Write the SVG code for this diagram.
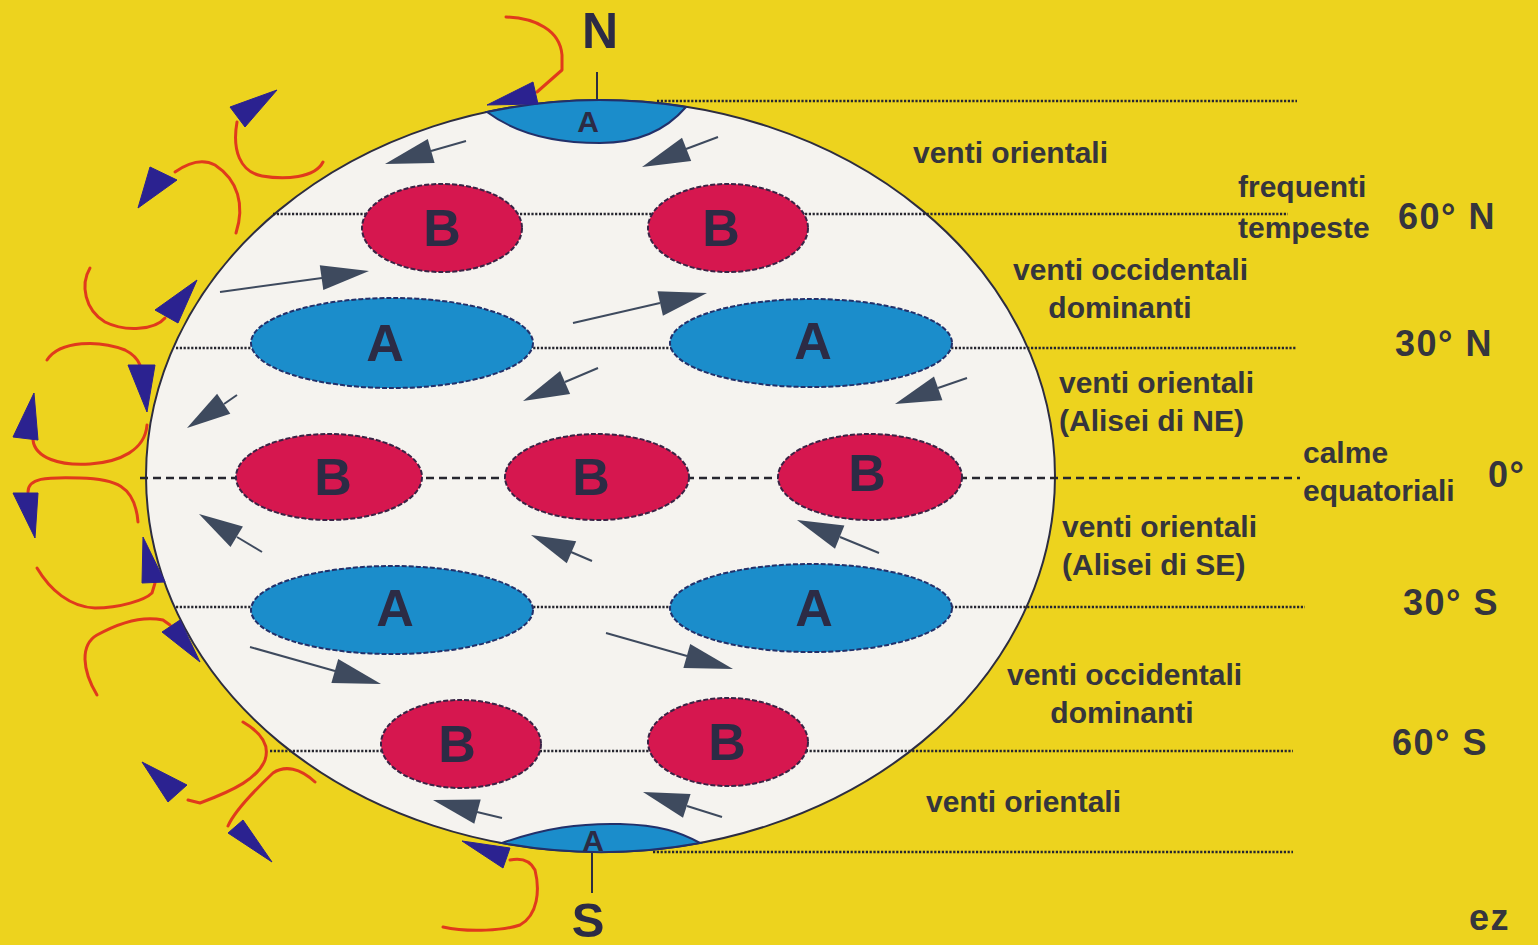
<svg xmlns="http://www.w3.org/2000/svg" width="1538" height="945" viewBox="0 0 1538 945">
  <style>
    .lat { fill: none; stroke: #26262f; stroke-width: 2.6; stroke-dasharray: 2.2 1.6; }
    .eq { fill: none; stroke: #26262f; stroke-width: 2.4; stroke-dasharray: 8 5; }
    .high { fill: #1b8dcb; stroke: #22306a; stroke-width: 2; stroke-dasharray: 5 2; }
    .low { fill: #d6174f; stroke: #3a2345; stroke-width: 2; stroke-dasharray: 5 2; }
    .cap { fill: #1b8dcb; stroke: #22306a; stroke-width: 2; }
    .ctr { font-family: "Liberation Sans", Arial, sans-serif; font-weight: bold; fill: #2c2b45; text-anchor: middle; }
    .lbl { font-family: "Liberation Sans", Arial, sans-serif; font-weight: bold; font-size: 30px; fill: #35353d; }
    .deg { font-family: "Liberation Sans", Arial, sans-serif; font-weight: bold; font-size: 36px; fill: #35353d; letter-spacing: 1.5px; }
    .wind line { stroke: #3e4a5e; stroke-width: 2; }
    .wind polygon { fill: #3e4a5e; }
    .cell path { fill: none; stroke: #e03a1c; stroke-width: 3; stroke-linecap: round; stroke-linejoin: round; }
    .cell polygon { fill: #2b2290; stroke: #2b2290; stroke-width: 1; stroke-linejoin: round; }
  </style>

  <!-- background -->
  <rect width="1538" height="945" fill="#edd31e"/>

  <!-- globe -->
  <g id="globe">
    <ellipse cx="600.5" cy="476" rx="454.5" ry="376" fill="#f5f3ef" stroke="#2d2d40" stroke-width="2"/>
  </g>

  <!-- latitude lines -->
  <g id="latitudes">
    <line class="lat" x1="657" y1="101" x2="1297" y2="101"/>
    <line class="lat" x1="273" y1="214" x2="1288" y2="214"/>
    <line class="lat" x1="176" y1="348" x2="1297" y2="348"/>
    <line class="eq" x1="140" y1="478" x2="1300" y2="478"/>
    <line class="lat" x1="176" y1="607" x2="1305" y2="607"/>
    <line class="lat" x1="270" y1="751" x2="1293" y2="751"/>
    <line class="lat" x1="653" y1="852" x2="1293" y2="852"/>
  </g>

  <!-- polar axis -->
  <g id="axis">
    <line x1="597" y1="72" x2="597" y2="101" stroke="#2d2d40" stroke-width="2"/>
    <line x1="592" y1="843" x2="592" y2="893" stroke="#2d2d40" stroke-width="2"/>
    <text class="ctr" x="600" y="48" font-size="50" fill="#3a3a48">N</text>
    <text class="ctr" x="588" y="937" font-size="49" fill="#3a3a48">S</text>
  </g>

  <!-- polar highs -->
  <g id="cap-north">
    <path class="cap" d="M487,112 A454.5,376 0 0 1 686,107 C668,128 640,143 600,143 C555,143 515,133 487,112 Z"/>
    <text class="ctr" x="588" y="132" font-size="30">A</text>
  </g>
  <g id="cap-south">
    <path class="cap" d="M502,843 A454.5,376 0 0 0 700,843 C680,832 660,825 620,824 C580,823 545,828 502,843 Z"/>
    <text class="ctr" x="593" y="851" font-size="30">A</text>
  </g>

  <!-- pressure cells -->
  <g id="low-60n-w"><ellipse class="low" cx="442" cy="228" rx="80" ry="44"/><text class="ctr" x="442" y="246" font-size="52">B</text></g>
  <g id="low-60n-e"><ellipse class="low" cx="728" cy="228" rx="80" ry="44"/><text class="ctr" x="721" y="246" font-size="52">B</text></g>
  <g id="high-30n-w"><ellipse class="high" cx="392" cy="343" rx="141" ry="45"/><text class="ctr" x="385" y="361" font-size="52">A</text></g>
  <g id="high-30n-e"><ellipse class="high" cx="811" cy="343" rx="141" ry="44"/><text class="ctr" x="813" y="359" font-size="52">A</text></g>
  <g id="low-eq-w"><ellipse class="low" cx="329" cy="477" rx="93" ry="43"/><text class="ctr" x="333" y="495" font-size="52">B</text></g>
  <g id="low-eq-c"><ellipse class="low" cx="597" cy="477" rx="92" ry="43"/><text class="ctr" x="591" y="495" font-size="52">B</text></g>
  <g id="low-eq-e"><ellipse class="low" cx="870" cy="477" rx="92" ry="43"/><text class="ctr" x="867" y="491" font-size="52">B</text></g>
  <g id="high-30s-w"><ellipse class="high" cx="392" cy="610" rx="141" ry="44"/><text class="ctr" x="395" y="626" font-size="52">A</text></g>
  <g id="high-30s-e"><ellipse class="high" cx="811" cy="608" rx="141" ry="44"/><text class="ctr" x="814" y="626" font-size="52">A</text></g>
  <g id="low-60s-w"><ellipse class="low" cx="461" cy="744" rx="80" ry="44"/><text class="ctr" x="457" y="762" font-size="52">B</text></g>
  <g id="low-60s-e"><ellipse class="low" cx="728" cy="742" rx="80" ry="44"/><text class="ctr" x="727" y="760" font-size="52">B</text></g>

  <!-- surface winds -->
  <g id="winds" class="wind">
    <line x1="466" y1="141" x2="431" y2="151"/><polygon points="385,164 427.8,138.9 434.6,162.9"/>
    <line x1="718" y1="137" x2="686" y2="149"/><polygon points="642,167 682,137.8 691.2,161"/>
    <line x1="220" y1="292" x2="322" y2="278"/><polygon points="369,271 323.3,290.1 319.8,265.3"/>
    <line x1="573" y1="323" x2="660" y2="303"/><polygon points="707,293 662.9,315.7 657.5,291.3"/>
    <line x1="237" y1="395" x2="224" y2="404"/><polygon points="187,428 217.1,393.8 230.3,413.8"/>
    <line x1="598" y1="368" x2="565" y2="382"/><polygon points="523,401 560.1,371 570.1,394"/>
    <line x1="967" y1="378" x2="938" y2="388"/><polygon points="895,404 934,376.6 942.4,400.2"/>
    <line x1="262" y1="552" x2="237" y2="537"/><polygon points="199,514 242.9,526.4 230.5,547"/>
    <line x1="592" y1="561" x2="571" y2="552"/><polygon points="531,535 576.2,541.2 566.8,563.2"/>
    <line x1="879" y1="553" x2="840" y2="537"/><polygon points="797,520 844.4,525.6 835,548.8"/>
    <line x1="250" y1="647" x2="335" y2="671"/><polygon points="381,684 331.4,682.9 338.2,658.9"/>
    <line x1="606" y1="633" x2="687" y2="656"/><polygon points="733,669 683.4,667.9 690.2,643.9"/>
    <line x1="502" y1="818" x2="477" y2="812"/><polygon points="433,800 480.7,799.5 474.3,823.7"/>
    <line x1="722" y1="817" x2="687" y2="806"/><polygon points="643,792 690.6,794 683,817.8"/>
  </g>

  <!-- vertical circulation cells -->
  <g id="cells" class="cell">
    <path d="M506,17 C535,18 560,30 562,55 L562,70 L537,92"/>
    <polygon points="487,105 533,82 538,104"/>
    <path d="M323,162 C315,178 285,180 262,176 C240,172 232,150 237,122"/>
    <polygon points="277,90 230,107 245,127"/>
    <path d="M236,233 C245,205 238,180 215,165 C200,157 185,165 175,172"/>
    <polygon points="138,208 150,167 177,180"/>
    <path d="M90,268 C80,285 85,310 105,322 C125,332 155,330 165,318"/>
    <polygon points="197,280 155,310 178,323"/>
    <path d="M47,360 C60,340 100,340 125,350 C135,355 138,360 140,365"/>
    <polygon points="147,412 128,365 155,365"/>
    <path d="M147,425 C145,450 120,462 90,464 C60,466 35,458 33,440"/>
    <polygon points="34,393 13,437 38,440"/>
    <path d="M28,492 C28,478 45,477 80,478 C115,479 135,485 138,522"/>
    <polygon points="35,538 13,493 38,493"/>
    <path d="M37,568 C50,590 70,607 95,608 C120,608 145,600 152,593 L155,583"/>
    <polygon points="143,537 142,583 165,582"/>
    <path d="M97,695 C82,670 80,645 97,635 C115,625 140,615 163,620 L170,625"/>
    <polygon points="200,662 162,632 180,620"/>
    <path d="M243,722 C262,733 270,745 265,760 C258,778 235,790 200,803 L188,800"/>
    <polygon points="142,762 187,785 168,802"/>
    <path d="M315,782 C300,768 285,765 273,773 C255,790 235,810 228,826"/>
    <polygon points="272,862 228,833 243,820"/>
    <path d="M443,927 C470,933 505,930 520,925 C538,915 540,890 535,870 C530,860 520,858 510,860"/>
    <polygon points="462,841 510,848 503,868"/>
  </g>

  <!-- wind belt labels -->
  <g id="labels">
    <text class="lbl" x="913" y="163">venti orientali</text>
    <text class="lbl" x="1238" y="197">frequenti</text>
    <text class="lbl" x="1238" y="238">tempeste</text>
    <text class="lbl" x="1013" y="280">venti occidentali</text>
    <text class="lbl" x="1120" y="318" text-anchor="middle">dominanti</text>
    <text class="lbl" x="1059" y="393">venti orientali</text>
    <text class="lbl" x="1059" y="431">(Alisei di NE)</text>
    <text class="lbl" x="1303" y="463">calme</text>
    <text class="lbl" x="1303" y="501">equatoriali</text>
    <text class="lbl" x="1062" y="537">venti orientali</text>
    <text class="lbl" x="1062" y="575">(Alisei di SE)</text>
    <text class="lbl" x="1007" y="685">venti occidentali</text>
    <text class="lbl" x="1122" y="723" text-anchor="middle">dominanti</text>
    <text class="lbl" x="926" y="812">venti orientali</text>
  </g>

  <!-- latitude labels -->
  <g id="degrees">
    <text class="deg" x="1398" y="229">60° N</text>
    <text class="deg" x="1395" y="356">30° N</text>
    <text class="deg" x="1488" y="487">0°</text>
    <text class="deg" x="1403" y="615">30° S</text>
    <text class="deg" x="1392" y="755">60° S</text>
    <text class="deg" x="1469" y="930" font-size="46" letter-spacing="0">ez</text>
  </g>
</svg>
